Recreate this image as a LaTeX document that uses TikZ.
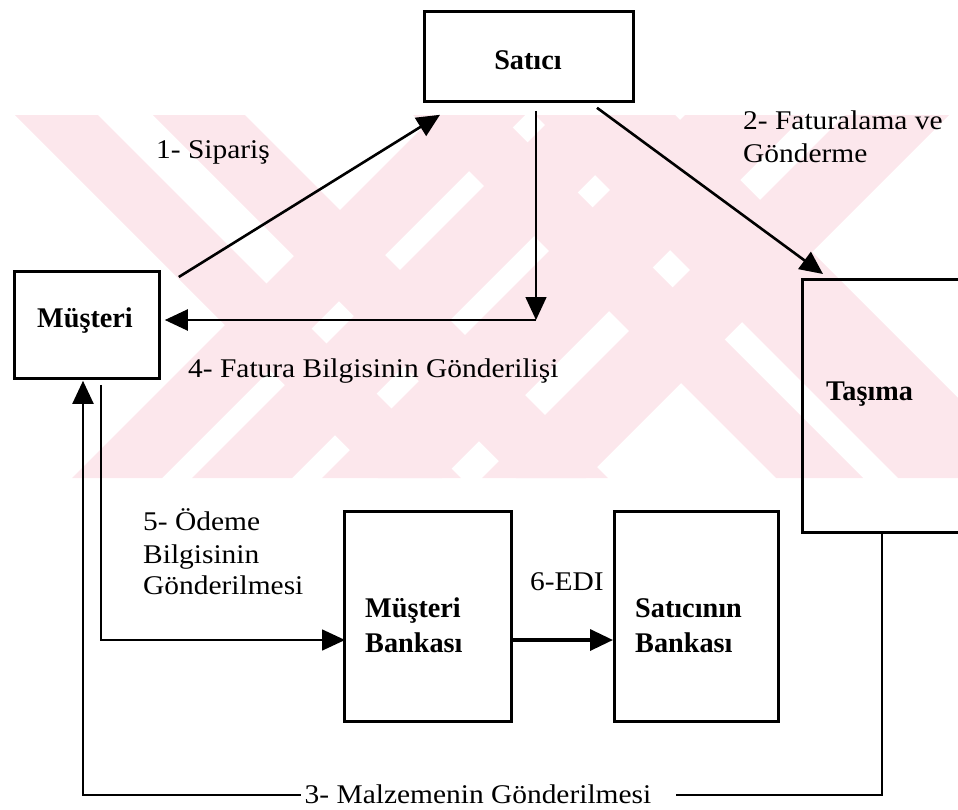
\documentclass[tikz,border=0pt]{standalone}
\usepackage{fontspec}
\setmainfont{Liberation Serif}[FakeStretch=1.09]
\newfontfamily\titlefont{Liberation Serif}[FakeStretch=0.99]
\usetikzlibrary{arrows.meta,calc}
\definecolor{wmpink}{RGB}{252,231,236}
\tikzset{
  box/.style={draw, line width=2.8pt, rectangle, inner sep=0pt, anchor=north west},
  boxtext/.style={inner sep=0pt, font=\titlefont\fontsize{28.5}{35}\selectfont\bfseries},
  lbl/.style={inner sep=0pt, anchor=base west, font=\fontsize{27}{33}\selectfont},
  arr/.style={-{Triangle[length=23pt,width=21pt]}, line width=2.4pt},
}
% diagonal emblem strips between y=115 and y=478
\newcommand{\bandback}[2]{\fill[wmpink] ({#1+115},115) -- ({#2+115},115) -- ({#2+478},478) -- ({#1+478},478) -- cycle;}
\newcommand{\bandfwd}[2]{\fill[wmpink] ({#1-115},115) -- ({#2-115},115) -- ({#2-478},478) -- ({#1-478},478) -- cycle;}
\begin{document}
\begin{tikzpicture}[x=1pt,y=-1pt]
\useasboundingbox (0,0) rectangle (958,809);

% faint background emblem
\begin{scope}
  \clip (15,115) rectangle (958,478);
  \bandback{-100}{-17}
  \bandback{38}{130}
  \bandback{298}{385}
  \bandback{420}{560}
  \bandfwd{550}{640}
  \bandfwd{670}{770}
  \bandfwd{800}{920}
  \bandfwd{960}{1064}
\end{scope}

% boxes
\node[box, minimum width=209pt, minimum height=90pt]  (sat) at (423,10)  {};
\node[box, minimum width=145pt, minimum height=107pt] (mus) at (13,270)  {};
\node[box, minimum width=200pt, minimum height=253pt] (tas) at (801,278) {};
\node[box, minimum width=167pt, minimum height=210pt] (mb)  at (343,510) {};
\node[box, minimum width=164pt, minimum height=210pt] (sb)  at (613,510) {};

% box titles
\node[boxtext, anchor=base] (satT) at (528,69) {Satıcı};
\node[boxtext, anchor=base] (musT) at (85,327) {Müşteri};
\node[boxtext, anchor=base west] (tasT) at (826,400) {Taşıma};
\node[boxtext, anchor=base west] (mbT1) at (365,617) {Müşteri};
\node[boxtext, anchor=base west] (mbT2) at (365,652) {Bankası};
\node[boxtext, anchor=base west] (sbT1) at (635,617) {Satıcının};
\node[boxtext, anchor=base west] (sbT2) at (635,652) {Bankası};

% flow labels
\node[lbl] (l1)  at (156,158) {1- Sipariş};
\node[lbl] (l2a) at (743,129) {2- Faturalama ve};
\node[lbl] (l2b) at (743,162) {Gönderme};
\node[lbl] (l4)  at (188,377) {4- Fatura Bilgisinin Gönderilişi};
\node[lbl] (l5a) at (143,530) {5- Ödeme};
\node[lbl] (l5b) at (143,563) {Bilgisinin};
\node[lbl] (l5c) at (143,594) {Gönderilmesi};
\node[lbl] (l6)  at (530,590) {6-EDI};

% corner points of the routed connectors
\coordinate (bend) at (536,320);
\coordinate (c1) at (882,795);
\coordinate (c2) at (83,795);
\coordinate (c3) at (101,640);

% 1: order
\draw[arr, line width=2.6pt] ($(mus.north east)+(18,7)$) -- ($(sat.south west)+(17,12)$);
% 2: invoicing and dispatch
\draw[arr, line width=2.6pt] ($(sat.south west)+(174,5)$) -- ($(tas.north west)+(22,-4)$);
% 4: invoice information
\draw[arr, line width=1.5pt] ($(sat.south -| bend)+(0,8)$) -- (bend);
\draw[arr, line width=2.2pt] (bend) -- ($(bend -| mus.east)+(4,0)$);
% 3: goods delivery
\draw[arr, line width=2pt] (tas.south -| c1) -- (c1)
  -- node[pos=0.4925, anchor=base, yshift=-8pt, fill=white, inner xsep=4pt, inner ysep=1pt,
          font=\fontsize{27}{33}\selectfont] (l3) {3- Malzemenin Gönderilmesi\hspace*{21pt}} (c2)
  -- ($(mus.south -| c2)+(0,1)$);
% 5: payment information
\draw[arr, line width=1.6pt] ($(mus.south -| c3)+(0,5)$) -- (c3) -- ($(c3 -| mb.west)+(2,0)$);
% 6: EDI
\draw[arr, line width=3.5pt] (mb.east |- c3) -- (sb.west |- c3);
\end{tikzpicture}
\end{document}
